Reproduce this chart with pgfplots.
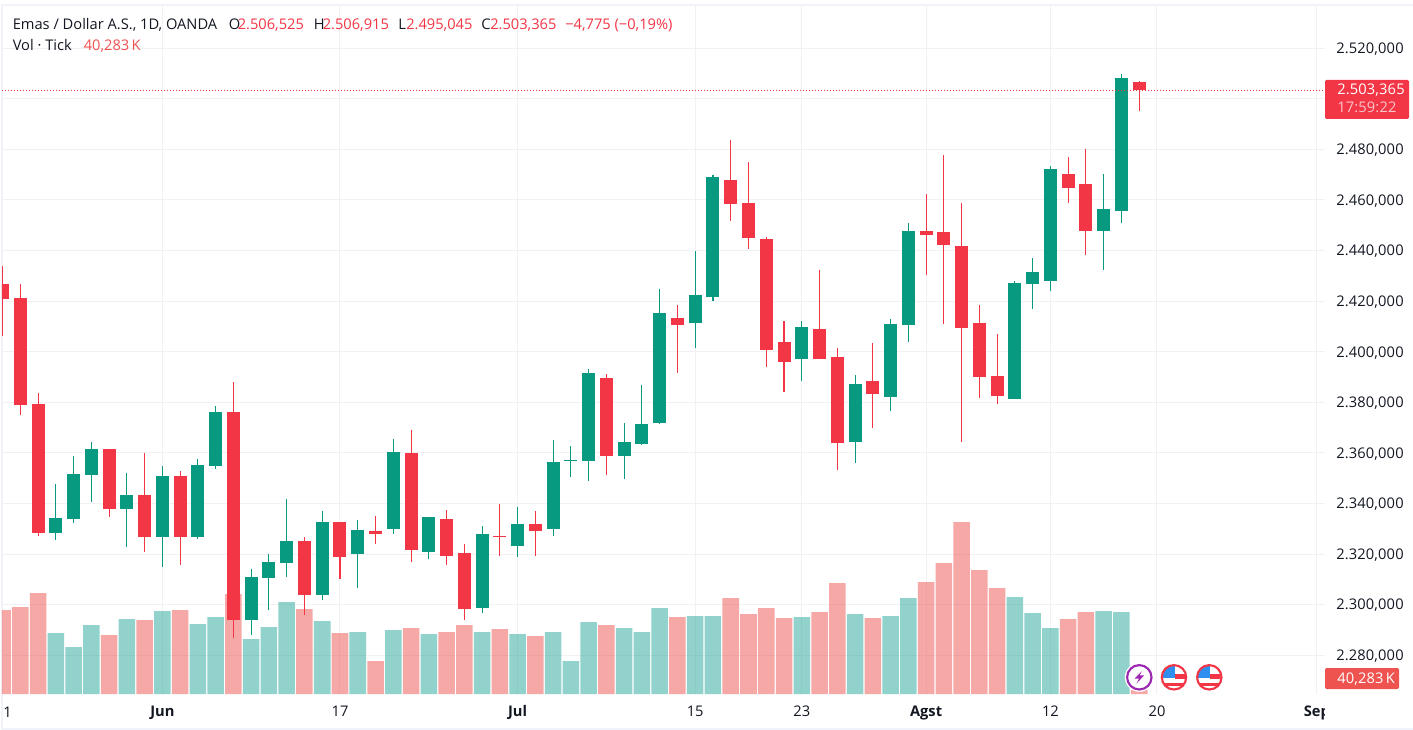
\documentclass[border=0pt]{standalone}
\usepackage{pgfplots}
\usepackage{pgfplotstable}
\usepackage{fontspec}
\pgfplotsset{compat=1.18}
\setmainfont{Open Sans}
\newfontfamily\tickfont[LetterSpace=1]{Open Sans}
\definecolor{cg}{HTML}{089981}
\definecolor{cr}{HTML}{F23645}
\definecolor{vg}{HTML}{26A69A}
\definecolor{vr}{HTML}{EF5350}
\definecolor{gridc}{HTML}{F1F1F3}
\definecolor{framec}{HTML}{F0F3FA}
\definecolor{txt}{HTML}{131722}
\definecolor{tagsub}{HTML}{FBC4CA}
\definecolor{purp}{HTML}{9C27B0}
\definecolor{flagb}{HTML}{2F8FEF}
\pgfplotstableread{
i o h l c v
0 2426.77 2433.88 2406.21 2420.97 120
1 2421.23 2426.77 2374.97 2378.92 123
2 2379.32 2383.67 2327.13 2328.31 137
6 2361.53 2361.53 2334.64 2337.80 95
8 2343.34 2359.95 2320.80 2326.73 110
10 2350.85 2352.83 2315.66 2326.73 120
13 2376.16 2388.02 2286.79 2293.91 136
17 2325.15 2326.73 2295.89 2303.80 121
19 2332.66 2332.66 2310.12 2318.82 97
21 2329.10 2335.03 2323.96 2327.92 69
23 2359.95 2369.04 2316.84 2321.59 102
25 2333.85 2337.41 2315.66 2319.22 98
26 2320.40 2323.96 2293.91 2298.26 105
28 2327.10 2339.77 2319.21 2326.70 101
30 2331.87 2337.01 2319.21 2329.10 94
34 2389.60 2391.18 2351.25 2358.76 105
38 2413.32 2418.47 2391.58 2410.56 113
41 2467.89 2483.71 2451.68 2458.40 132
42 2458.80 2475.01 2440.61 2444.96 116
43 2444.56 2445.35 2393.95 2400.67 122
44 2403.84 2412.14 2384.07 2395.93 112
46 2408.98 2432.30 2397.11 2397.11 118
47 2397.90 2401.46 2353.22 2363.90 147
49 2388.40 2403.43 2369.82 2383.27 112
52 2447.72 2462.35 2430.32 2446.14 148
53 2447.32 2477.77 2410.94 2442.18 167
54 2441.79 2458.79 2364.29 2409.36 208
55 2411.34 2418.46 2381.68 2389.99 160
56 2390.38 2406.99 2379.31 2382.48 142
60 2470.25 2476.98 2458.79 2464.72 111
61 2466.30 2480.14 2438.23 2447.72 118
64 2506.525 2506.915 2495.045 2503.365 40.283
}\redtable
\pgfplotstableread{
i o h l c v
3 2328.31 2347.69 2325.55 2334.24 97
4 2333.85 2358.76 2332.27 2351.64 83
5 2351.25 2364.29 2340.57 2361.53 105
7 2337.80 2352.04 2322.78 2343.34 111
9 2326.73 2354.80 2314.87 2350.85 119
11 2326.73 2357.57 2325.94 2355.20 106
12 2354.80 2378.53 2353.62 2376.16 113
14 2293.91 2314.08 2287.98 2310.91 91
15 2310.52 2320.01 2297.87 2316.85 103
16 2316.45 2341.76 2310.92 2325.15 128
18 2303.80 2337.01 2301.82 2332.66 109
20 2320.01 2333.45 2306.56 2329.50 98
22 2329.89 2365.48 2327.92 2360.34 100
24 2320.80 2334.64 2318.03 2334.64 96
27 2298.65 2331.08 2296.68 2327.91 98
29 2323.17 2338.59 2318.82 2331.87 96
31 2329.89 2365.09 2327.12 2356.38 98
32 2356.79 2362.71 2350.46 2357.18 69
33 2356.79 2393.16 2348.87 2391.58 108
35 2358.76 2371.81 2349.67 2364.30 102
36 2363.51 2386.83 2363.11 2371.41 98
37 2371.81 2424.79 2371.41 2415.30 122
39 2411.35 2439.82 2401.46 2422.42 114
40 2421.63 2469.87 2420.05 2469.08 114
45 2397.11 2412.14 2388.41 2409.77 113
48 2364.30 2390.79 2355.99 2387.23 116
50 2382.08 2412.92 2376.54 2410.94 114
51 2410.55 2450.88 2403.83 2447.72 132
57 2381.29 2427.95 2381.29 2427.15 133
58 2426.76 2437.04 2416.87 2431.50 117
59 2427.95 2473.42 2423.99 2472.23 102
62 2447.72 2470.25 2432.30 2456.42 119
63 2455.62 2509.79 2450.88 2508.21 118
}\greentable
\pgfplotsset{
  base/.style={
    at={(O)}, anchor=south west, scale only axis,
    width=992.25pt, height=516.75pt,
    xmin=-0.0304, xmax=74.46,
    clip=true},
  wick/.style={draw=none, mark=none,
    error bars/y dir=plus, error bars/y explicit, error bars/error mark=none,
    error bars/error bar style={draw=#1, line width=0.8pt}},
  body/.style={draw=none, mark=none,
    error bars/y dir=plus, error bars/y explicit, error bars/error mark=none,
    error bars/error bar style={draw=#1, line width=9.75pt}},
}
\newcommand{\ts}{\fontsize{11pt}{13pt}\selectfont}
\newcommand{\tks}{\tickfont\fontsize{11pt}{13pt}\selectfont}
\begin{document}
\begin{tikzpicture}[x=0.75pt,y=-0.75pt]
\useasboundingbox (0,0) rectangle (1413,730);
\fill[white] (0,0) rectangle (1413,730);
\fill[framec] (1,4) rectangle (1413,6);
\fill[framec] (1,4) rectangle (3,730);
\fill[framec] (1,728) rectangle (1413,730);
\coordinate (O) at (2,694);
% price scale, grid and labels
\begin{axis}[base,
  ymin=2264.65, ymax=2537.09,
  axis line style={draw=none},
  tick style={draw=none},
  major tick length=0pt,
  grid=both,
  grid style={draw=gridc, line width=0.75pt},
  ytick={2280,2300,2320,2340,2360,2380,2400,2420,2440,2460,2480,2500,2520},
  yticklabels={{2.280,000},{2.300,000},{2.320,000},{2.340,000},{2.360,000},{2.380,000},{2.400,000},{2.420,000},{2.440,000},{2.460,000},{2.480,000},{},{2.520,000}},
  yticklabel pos=right,
  yticklabel style={anchor=base west, inner sep=0pt, xshift=8.25pt, yshift=-4pt, font=\tks, text=txt},
  xtick={0,9,19,29,39,45,52,59,65,74},
  xticklabels={{},\textbf{Jun},17,\textbf{Jul},15,23,\textbf{Agst},12,20,\textbf{Sep}},
  xticklabel style={anchor=base, inner sep=0pt, yshift=-17pt, font=\ts, text=txt},
]
\addplot[draw=none, forget plot] coordinates {(0,2300)};
\end{axis}
% volume pane
\begin{axis}[base, hide axis, ymin=36, ymax=725]
\addplot[ybar, bar width=12.4pt, bar shift=0pt, draw=none, fill=vr, fill opacity=0.5, forget plot] table[x=i, y=v] {\redtable};
\addplot[ybar, bar width=12.4pt, bar shift=0pt, draw=none, fill=vg, fill opacity=0.5, forget plot] table[x=i, y=v] {\greentable};
\end{axis}
% candles
\begin{axis}[base, hide axis, ymin=2264.65, ymax=2537.09]
\addplot[forget plot, wick=cr] table[x=i, y=l, y error plus expr=\thisrow{h}-\thisrow{l}] {\redtable};
\addplot[forget plot, wick=cg] table[x=i, y=l, y error plus expr=\thisrow{h}-\thisrow{l}] {\greentable};
\addplot[forget plot, body=cr] table[x=i, y=c, y error plus expr=\thisrow{o}-\thisrow{c}] {\redtable};
\addplot[forget plot, body=cg] table[x=i, y=o, y error plus expr=\thisrow{c}-\thisrow{o}] {\greentable};
\addplot[draw=cr, line width=0.75pt, dash pattern=on 0.75pt off 1.5pt, forget plot] coordinates {(-0.0304,2503.365) (74.46,2503.365)};
\end{axis}
% cover to the right of the plot below
\fill[white] (1325,695) rectangle (1413,727.9);
% price tags
\fill[cr, rounded corners=1pt] (1325,80) rectangle (1409,119);
\node[anchor=base west, inner sep=0pt, text=white, font=\tks] at (1337,95) {2.503,365};
\node[anchor=base west, inner sep=0pt, text=tagsub, font=\tks] at (1337,113) {17:59:22};
\fill[vr, rounded corners=1pt] (1325,668) rectangle (1399,689);
\node[anchor=base west, inner sep=0pt, text=white, font=\tks] at (1337,683) {40,283\,K};
% first, clipped date label
\node[anchor=base west, inner sep=0pt, text=txt, font=\ts] at (3,717) {1};
% header
\node[anchor=base west, inner sep=0pt, text=txt, font=\ts] at (12.5,30) {Emas / Dollar A.S., 1D, OANDA};
\node[anchor=base west, inner sep=0pt, text=txt, font=\ts] at (228.5,30) {O};
\node[anchor=base west, inner sep=0pt, text=cr, font=\ts] at (237.5,30) {2.506,525};
\node[anchor=base west, inner sep=0pt, text=txt, font=\ts] at (313.5,30) {H};
\node[anchor=base west, inner sep=0pt, text=cr, font=\ts] at (322.5,30) {2.506,915};
\node[anchor=base west, inner sep=0pt, text=txt, font=\ts] at (398,30) {L};
\node[anchor=base west, inner sep=0pt, text=cr, font=\ts] at (406,30) {2.495,045};
\node[anchor=base west, inner sep=0pt, text=txt, font=\ts] at (481,30) {C};
\node[anchor=base west, inner sep=0pt, text=cr, font=\ts] at (490,30) {2.503,365};
\node[anchor=base west, inner sep=0pt, text=cr, font=\ts] at (565,30) {−4,775 (−0,19\%)};
\node[anchor=base west, inner sep=0pt, text=txt, font=\ts] at (12.5,51) {Vol · Tick};
\node[anchor=base west, inner sep=0pt, text=vr, font=\ts] at (83.5,51) {40,283\,K};
% event icons
\begin{scope}[shift={(1139.3,677.3)}]
\fill[white] (0,0) circle[radius=14.5];
\draw[purp, line width=1.6pt] (0,0) circle[radius=12.2];
\fill[purp] (2.6,-6.2) -- (-4.6,1.2) -- (-0.2,1.2) -- (-3,6.4) -- (4.9,-1.9) -- (0.4,-1.9) -- cycle;
\end{scope}
\foreach \cx in {1174,1209.3}{
\begin{scope}[shift={(\cx,677.3)}]
\fill[white] (0,0) circle[radius=14.5];
\begin{scope}
\clip (0,0) circle[radius=11.5];
\fill[cr] (1,-3) rectangle (12,2);
\fill[cr] (-12,5.5) rectangle (12,9);
\fill[flagb] (-12,-12) rectangle (1,1);
\end{scope}
\draw[cr, line width=1.6pt] (0,0) circle[radius=12.2];
\end{scope}
}
\end{tikzpicture}
\end{document}
